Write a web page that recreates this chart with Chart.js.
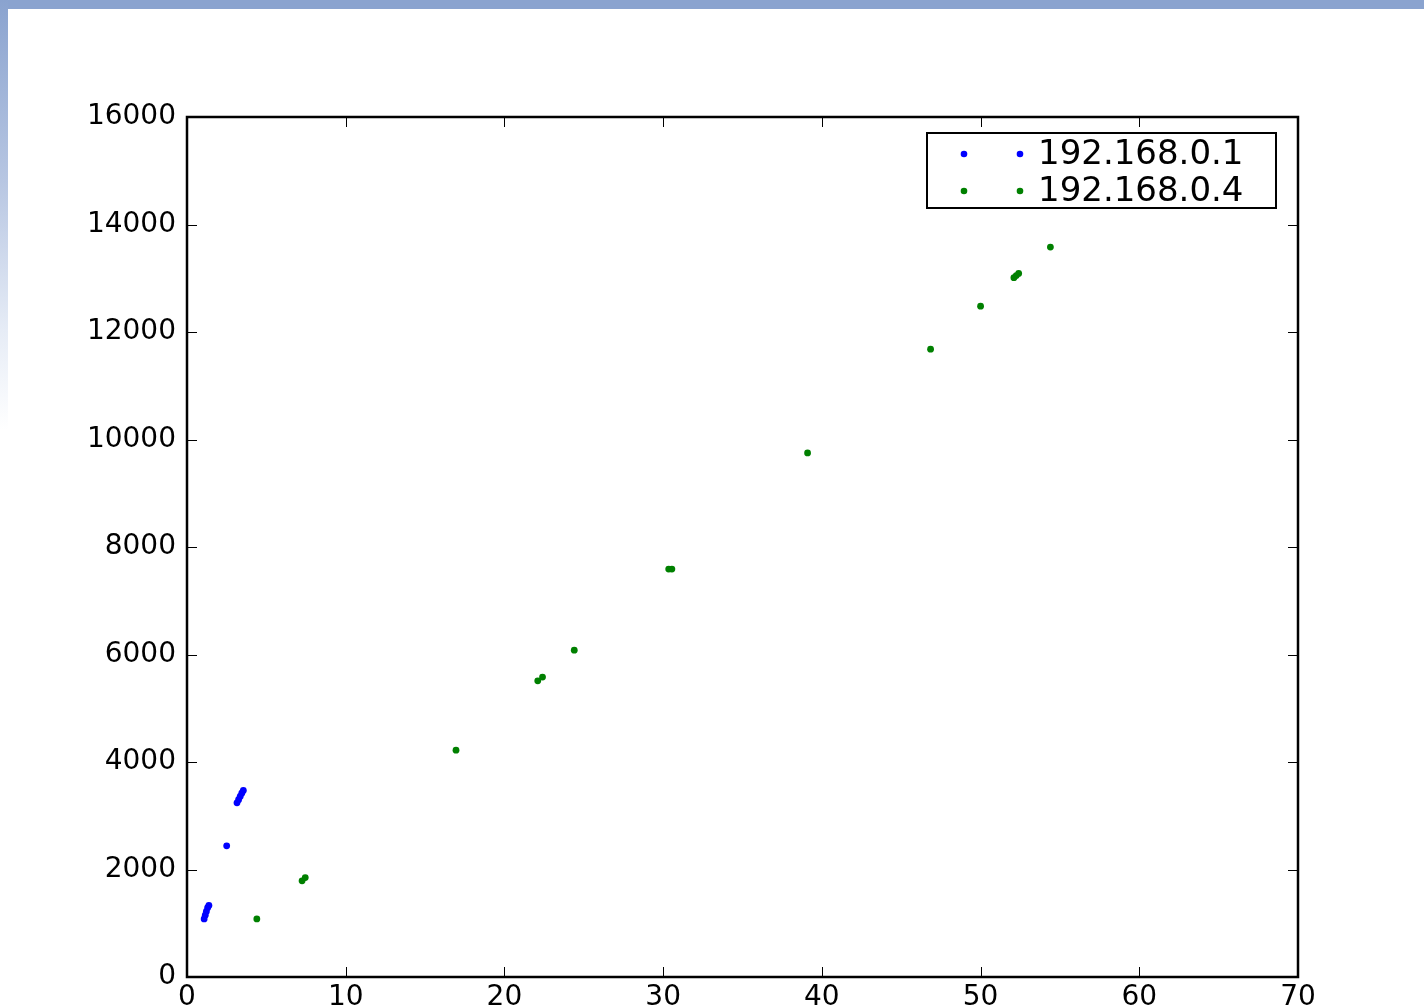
<!DOCTYPE html>
<html>
<head>
<meta charset="utf-8">
<script src="https://cdn.jsdelivr.net/npm/chart.js@4/dist/chart.umd.min.js"></script>
<style>
  html, body { margin: 0; padding: 0; background: #fff; }
  #wrap { position: relative; width: 1424px; height: 1008px; overflow: hidden; }
  #topbar { position: absolute; left: 0; top: 0; width: 1424px; height: 9px; background: #8aa3cf; }
  #leftbar { position: absolute; left: 0; top: 0; width: 8px; height: 1008px;
    background: linear-gradient(to bottom, #8aa3cf 0px, #b7c6e2 180px, #e6ecf6 330px, #ffffff 430px); }
  #box { position: absolute; left: 0; top: 0; width: 1424px; height: 1008px; }
</style>
</head>
<body>
<div id="wrap">
  <div id="topbar"></div>
  <div id="leftbar"></div>
  <div id="box"><canvas id="ch1"></canvas></div>
</div>
<script>
// scatter - packets per host
var hosts = ['192.168.0.1', '192.168.0.4'];

var blueX = [1.08, 1.15, 1.22, 1.3, 1.38, 2.5, 3.15, 3.25, 3.35, 3.45, 3.55];
var blueY = [1080, 1150, 1220, 1290, 1330, 2440, 3240, 3300, 3360, 3420, 3470];

var greenX = [4.4, 7.25, 7.45, 16.95, 22.1, 22.4, 24.4, 30.35, 30.55, 39.1, 46.85, 50.0, 52.1, 52.25, 52.4, 54.4];
var greenY = [1080, 1790, 1850, 4220, 5510, 5580, 6080, 7590, 7590, 9750, 11680, 12480, 13010, 13050, 13090, 13580];

var xTicks = [0, 10, 20, 30, 40, 50, 60, 70];
var yTicks = [0, 2000, 4000, 6000, 8000, 10000, 12000, 14000, 16000];

function pts(xs, ys) {
  return xs.map(function (x, i) { return {x: x, y: ys[i]}; });
}

// frame + inward ticks like old matplotlib
var frame = {
  id: 'frame',
  afterDraw: function (chart) {
    var c = chart.ctx, a = chart.chartArea;
    var xs = chart.scales.x, ys = chart.scales.y;
    c.save();
    c.strokeStyle = '#000';
    c.lineWidth = 1;
    xTicks.forEach(function (v) {
      var px = Math.round(xs.getPixelForValue(v)) + 0.5;
      c.beginPath();
      c.moveTo(px, a.bottom); c.lineTo(px, a.bottom - 10);
      c.moveTo(px, a.top); c.lineTo(px, a.top + 10);
      c.stroke();
    });
    yTicks.forEach(function (v) {
      var py = Math.round(ys.getPixelForValue(v)) + 0.5;
      c.beginPath();
      c.moveTo(a.left, py); c.lineTo(a.left + 10, py);
      c.moveTo(a.right, py); c.lineTo(a.right - 10, py);
      c.stroke();
    });
    c.lineWidth = 2.5;
    c.strokeRect(a.left, a.top, a.right - a.left, a.bottom - a.top);
    c.restore();
  }
};

// legend box, top right inside the axes
var legendBox = {
  id: 'legendBox',
  afterDraw: function (chart) {
    var c = chart.ctx, a = chart.chartArea;
    var w = 349, h = 75;
    var x0 = a.right - 22 - w, y0 = a.top + 16;
    c.save();
    c.fillStyle = '#fff';
    c.fillRect(x0, y0, w, h);
    c.strokeStyle = '#000';
    c.lineWidth = 2;
    c.strokeRect(x0, y0, w, h);
    c.font = '34px "DejaVu Sans"';
    c.textBaseline = 'middle';
    chart.data.datasets.forEach(function (ds, i) {
      var cy = y0 + 21 + i * 37;
      c.fillStyle = ds.backgroundColor;
      [x0 + 37, x0 + 93].forEach(function (cx) {
        c.beginPath(); c.arc(cx, cy, 3.3, 0, Math.PI * 2); c.fill();
      });
      c.fillStyle = '#000';
      c.fillText(ds.label, x0 + 111, cy + 1);
    });
    c.restore();
  }
};

var ctx = document.getElementById('ch1').getContext('2d');
var myChart = new Chart(ctx, {
  type: 'scatter',
  data: {
    datasets: [{
      label: hosts[0],
      data: pts(blueX, blueY),
      backgroundColor: '#0000ff',
      borderWidth: 0,
      pointRadius: 3.4
    }, {
      label: hosts[1],
      data: pts(greenX, greenY),
      backgroundColor: '#008000',
      borderWidth: 0,
      pointRadius: 3.4
    }]
  },
  options: {
    responsive: true,
    maintainAspectRatio: false,
    animation: false,
    layout: { padding: { top: 117, right: 126, left: 0, bottom: 0 } },
    plugins: { legend: { display: false }, tooltip: { enabled: false } },
    scales: {
      x: {
        type: 'linear', min: 0, max: 70,
        afterBuildTicks: function (s) { s.ticks = xTicks.map(function (v) { return {value: v}; }); },
        afterFit: function (s) { s.height = 31; },
        grid: { display: false, drawTicks: false },
        border: { display: false },
        ticks: { color: '#000', padding: 4, maxRotation: 0, font: { family: 'DejaVu Sans', size: 28 } }
      },
      y: {
        type: 'linear', min: 0, max: 16000,
        afterBuildTicks: function (s) { s.ticks = yTicks.map(function (v) { return {value: v}; }); },
        afterFit: function (s) { s.width = 187; },
        grid: { display: false, drawTicks: false },
        border: { display: false },
        ticks: { color: '#000', padding: 11, font: { family: 'DejaVu Sans', size: 28 },
          callback: function (v) { return String(v); } }
      }
    }
  },
  plugins: [frame, legendBox]
});
</script>
</body>
</html>
